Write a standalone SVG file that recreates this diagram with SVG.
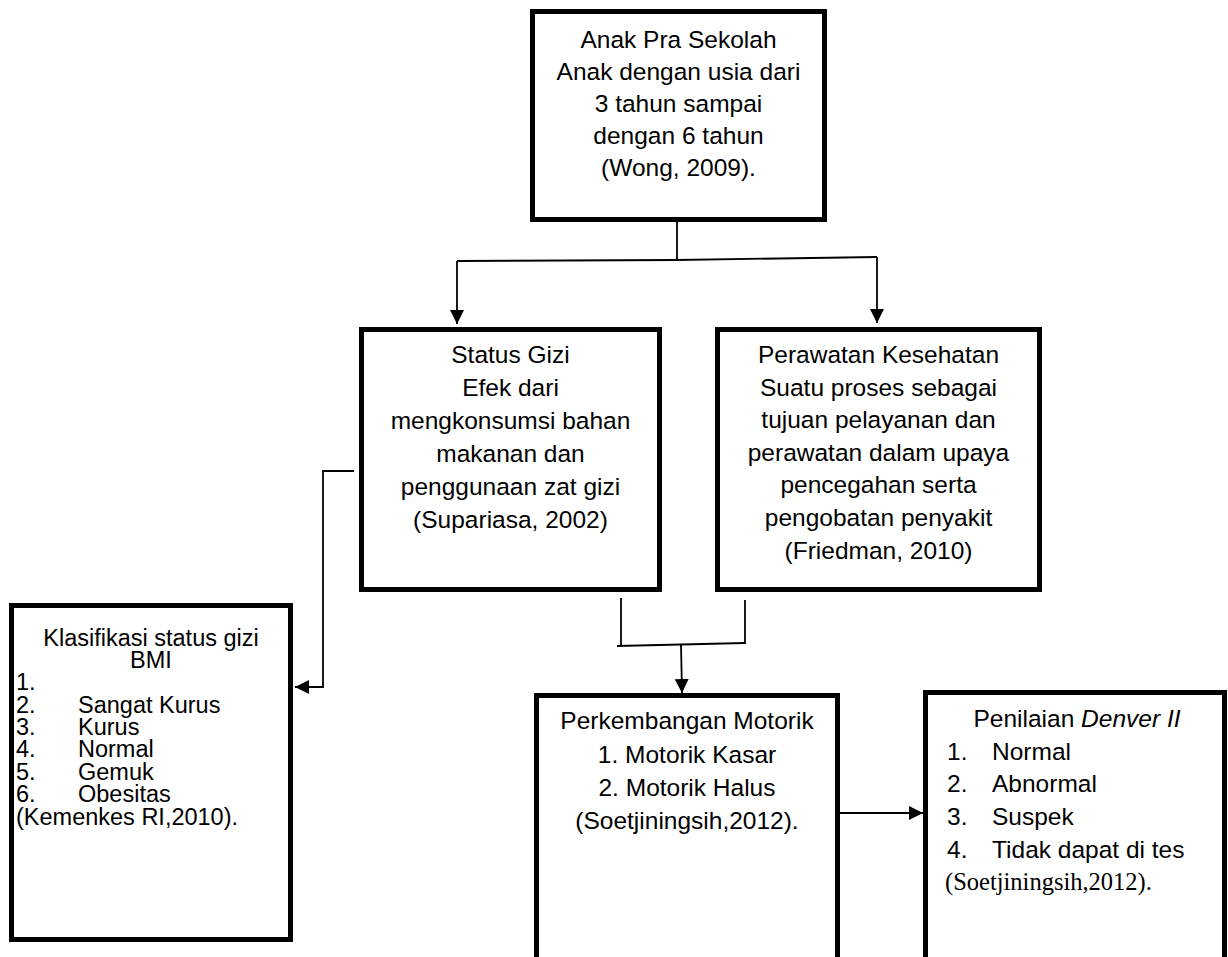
<svg xmlns="http://www.w3.org/2000/svg" width="1228" height="957" viewBox="0 0 1228 957">
<style>
.box{fill:#fff;stroke:#000;stroke-width:5}
.t{font-family:"Liberation Sans",Arial,sans-serif;font-size:24.5px;fill:#000}
.k{font-family:"Liberation Sans",Arial,sans-serif;font-size:23.5px;fill:#000}
.c{text-anchor:middle}
.tr{font-family:"Liberation Serif","Times New Roman",serif;font-size:24.5px;fill:#000}
.ln{fill:none;stroke:#000;stroke-width:1.8}
</style>
<defs>
<marker id="ah" markerUnits="userSpaceOnUse" markerWidth="15" markerHeight="15" refX="14" refY="7" orient="auto">
<path d="M0,0 L14,7 L0,14 z" fill="#000"/>
</marker>
</defs>
<rect width="1228" height="957" fill="#fff"/>
<g id="connectors">
<path class="ln" d="M677,222 V259"/>
<path class="ln" d="M457,261 L677,260 L877,257"/>
<path class="ln" d="M457,261 V324" marker-end="url(#ah)"/>
<path class="ln" d="M877,257 V323" marker-end="url(#ah)"/>
<path class="ln" d="M354,471 H323 V687 H295" marker-end="url(#ah)"/>
<path class="ln" d="M621,598 V646"/>
<path class="ln" d="M745,600 V644"/>
<path class="ln" d="M617,646 L745,643"/>
<path class="ln" d="M681,645 L682,693" marker-end="url(#ah)"/>
<path class="ln" d="M840,813 H923" marker-end="url(#ah)"/>
</g>
<g id="anak">
<rect class="box" x="532.5" y="11.5" width="292" height="208"/>
<text class="t c" x="678.5" y="48">Anak Pra Sekolah</text>
<text class="t c" x="678.5" y="80">Anak dengan usia dari</text>
<text class="t c" x="678.5" y="112">3 tahun sampai</text>
<text class="t c" x="678.5" y="144">dengan 6 tahun</text>
<text class="t c" x="678.5" y="176">(Wong, 2009).</text>
</g>
<g id="status">
<rect class="box" x="361.5" y="329.5" width="298" height="260"/>
<text class="t c" x="510.5" y="363">Status Gizi</text>
<text class="t c" x="510.5" y="396">Efek dari</text>
<text class="t c" x="510.5" y="429">mengkonsumsi bahan</text>
<text class="t c" x="510.5" y="462">makanan dan</text>
<text class="t c" x="510.5" y="495">penggunaan zat gizi</text>
<text class="t c" x="510.5" y="528">(Supariasa, 2002)</text>
</g>
<g id="perawatan">
<rect class="box" x="717.5" y="329.5" width="322" height="260"/>
<text class="t c" x="878.5" y="363">Perawatan Kesehatan</text>
<text class="t c" x="878.5" y="396">Suatu proses sebagai</text>
<text class="t c" x="878.5" y="428">tujuan pelayanan dan</text>
<text class="t c" x="878.5" y="461">perawatan dalam upaya</text>
<text class="t c" x="878.5" y="493">pencegahan serta</text>
<text class="t c" x="878.5" y="526">pengobatan penyakit</text>
<text class="t c" x="878.5" y="559">(Friedman, 2010)</text>
</g>
<g id="klasifikasi">
<rect class="box" x="11.5" y="605.5" width="279" height="334"/>
<text class="k c" x="151" y="646">Klasifikasi status gizi</text>
<text class="k c" x="151" y="668">BMI</text>
<text class="k" x="16" y="690">1.</text>
<text class="k" x="16" y="713">2.<tspan x="78">Sangat Kurus</tspan></text>
<text class="k" x="16" y="735">3.<tspan x="78">Kurus</tspan></text>
<text class="k" x="16" y="757">4.<tspan x="78">Normal</tspan></text>
<text class="k" x="16" y="780">5.<tspan x="78">Gemuk</tspan></text>
<text class="k" x="16" y="802">6.<tspan x="78">Obesitas</tspan></text>
<text class="k" x="16" y="825">(Kemenkes RI,2010).</text>
</g>
<g id="perkembangan">
<rect class="box" x="536.5" y="695.5" width="301" height="300"/>
<text class="t c" x="687" y="729">Perkembangan Motorik</text>
<text class="t c" x="687" y="763">1. Motorik Kasar</text>
<text class="t c" x="687" y="796">2. Motorik Halus</text>
<text class="t c" x="687" y="829">(Soetjiningsih,2012).</text>
</g>
<g id="penilaian">
<rect class="box" x="925.5" y="692.5" width="299" height="300"/>
<text class="t c" x="1077" y="727">Penilaian <tspan font-style="italic">Denver II</tspan></text>
<text class="t" x="947" y="760">1.<tspan x="992">Normal</tspan></text>
<text class="t" x="947" y="792">2.<tspan x="992">Abnormal</tspan></text>
<text class="t" x="947" y="825">3.<tspan x="992">Suspek</tspan></text>
<text class="t" x="947" y="858">4.<tspan x="992">Tidak dapat di tes</tspan></text>
<text class="tr" x="945" y="890">(Soetjiningsih,2012).</text>
</g>
</svg>
